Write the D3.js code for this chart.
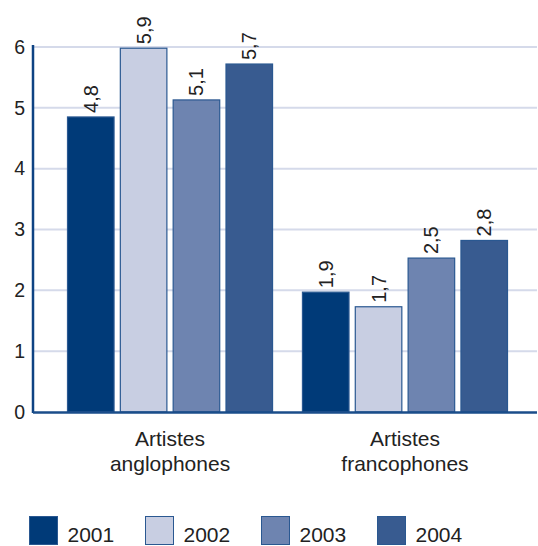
<!DOCTYPE html>
<html>
<head>
<meta charset="utf-8">
<script src="https://cdn.jsdelivr.net/npm/d3@7"></script>
<style>
  body { margin: 0; background: #fff; }
  text { font-family: "Liberation Sans", Arial, sans-serif; fill: #222; }
</style>
</head>
<body>
<div id="chart"></div>
<script>
// données
var categories = ["Artistes\nanglophones", "Artistes\nfrancophones"];
var annees = ["2001", "2002", "2003", "2004"];
var valeurs2001 = [4.85, 1.97];
var valeurs2002 = [5.98, 1.73];
var valeurs2003 = [5.13, 2.53];
var valeurs2004 = [5.72, 2.82];
var etiquettes2001 = ["4,8", "1,9"];
var etiquettes2002 = ["5,9", "1,7"];
var etiquettes2003 = ["5,1", "2,5"];
var etiquettes2004 = ["5,7", "2,8"];
var ticksY = [0, 1, 2, 3, 4, 5, 6];

var couleurs = ["#003a78", "#c8cee2", "#6e84b0", "#385b90"];

var series = [valeurs2001, valeurs2002, valeurs2003, valeurs2004];
var etiquettes = [etiquettes2001, etiquettes2002, etiquettes2003, etiquettes2004];

var width = 538, height = 546;
var gauche = 33, droite = 537, haut = 47, bas = 412;

var svg = d3.select("#chart").append("svg")
    .attr("width", width)
    .attr("height", height);

var y = d3.scaleLinear().domain([0, 6]).range([bas, haut]);

var x0 = d3.scaleBand().domain(categories).range([67, 508]).paddingInner(0.123);
var x1 = d3.scaleBand().domain(annees).range([0, x0.bandwidth()]).paddingInner(0.1);

// grille
svg.selectAll(".grid")
    .data(ticksY.filter(function(d){ return d > 0; }))
  .enter().append("line")
    .attr("x1", gauche).attr("x2", droite)
    .attr("y1", function(d){ return y(d); })
    .attr("y2", function(d){ return y(d); })
    .attr("stroke", "#d5daea")
    .attr("stroke-width", 2);

// barres
var data = [];
categories.forEach(function(c, i){
  annees.forEach(function(a, j){
    data.push({cat: c, annee: a, v: series[j][i], lab: etiquettes[j][i], k: j});
  });
});

svg.selectAll(".bar")
    .data(data)
  .enter().append("rect")
    .attr("x", function(d){ return x0(d.cat) + x1(d.annee) + 0.5; })
    .attr("y", function(d){ return y(d.v); })
    .attr("width", x1.bandwidth() - 1)
    .attr("height", function(d){ return bas - y(d.v); })
    .attr("fill", function(d){ return couleurs[d.k]; })
    .attr("stroke", "#2a5891")
    .attr("stroke-width", 1.2);

svg.selectAll(".val")
    .data(data)
  .enter().append("text")
    .attr("transform", function(d){
      var cx = x0(d.cat) + x1(d.annee) + x1.bandwidth() / 2;
      return "translate(" + cx + "," + (y(d.v) - 4) + ") rotate(-90)";
    })
    .attr("dy", "0.35em")
    .style("font-size", "20px")
    .text(function(d){ return d.lab; });

// axes
var axeY = d3.axisLeft(y).tickValues(ticksY).tickSize(0).tickPadding(8).tickFormat(d3.format("d"));
var gY = svg.append("g").attr("transform", "translate(" + gauche + ",0)").call(axeY);
gY.select(".domain").remove();
gY.selectAll("text").style("font-size", "19.5px").style("font-family", "Liberation Sans, Arial, sans-serif").attr("fill", "#222");

svg.append("line")
    .attr("x1", gauche).attr("x2", gauche)
    .attr("y1", haut - 2).attr("y2", bas + 1)
    .attr("stroke", "#0e4383").attr("stroke-width", 2.5);
svg.append("line")
    .attr("x1", gauche).attr("x2", droite)
    .attr("y1", bas + 0.5).attr("y2", bas + 0.5)
    .attr("stroke", "#1a4d8a").attr("stroke-width", 2.5);

// libellés des catégories
var catText = svg.selectAll(".cat")
    .data(categories)
  .enter().append("text")
    .attr("text-anchor", "middle")
    .style("font-size", "21px");
catText.selectAll("tspan")
    .data(function(d){ return d.split("\n").map(function(t){ return {t: t, c: d}; }); })
  .enter().append("tspan")
    .attr("x", function(d){ return x0(d.c) + x0.bandwidth() / 2; })
    .attr("y", function(d, i){ return 446 + i * 25; })
    .text(function(d){ return d.t; });

// légende
var leg = svg.selectAll(".leg")
    .data(annees)
  .enter().append("g")
    .attr("transform", function(d, i){ return "translate(" + (29.5 + i * 116) + ",516.5)"; });
leg.append("rect")
    .attr("width", 28).attr("height", 28)
    .attr("fill", function(d, i){ return couleurs[i]; })
    .attr("stroke", "#2a5891").attr("stroke-width", 1);
leg.append("text")
    .attr("x", 38).attr("y", 25)
    .style("font-size", "21px")
    .text(function(d){ return d; });
</script>
</body>
</html>
